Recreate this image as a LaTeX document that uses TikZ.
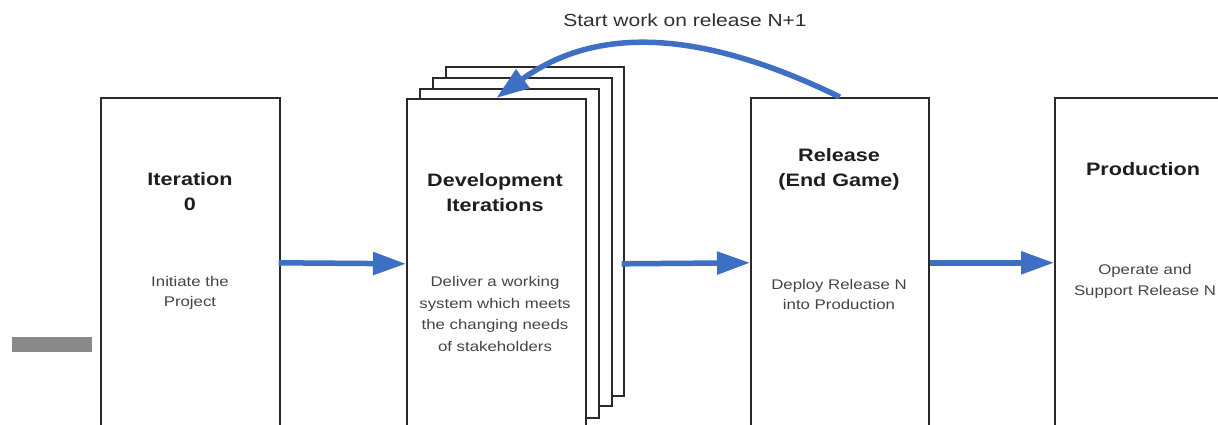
\documentclass[tikz,border=0pt]{standalone}
\usepackage{fontspec}
\setmainfont{Liberation Sans}[FakeStretch=1.2]
\usetikzlibrary{arrows.meta}

\definecolor{flowblue}{HTML}{3D6FC2}
\definecolor{boxline}{HTML}{2A2A2A}
\definecolor{bodytext}{HTML}{454545}
\definecolor{titletext}{HTML}{1E1E1E}
\definecolor{barfill}{HTML}{8A8A8A}

\tikzset{
  phase/.style={draw=boxline, line width=1.6pt, fill=white, rectangle,
    inner sep=0pt, anchor=north west},
  title/.style={font=\fontsize{18}{25}\selectfont\bfseries, text=titletext,
    align=center, inner sep=0pt},
  body/.style={font=\fontsize{14}{20.5}\selectfont, text=bodytext,
    align=center, inner sep=0pt},
  flow/.style={draw=flowblue, line width=5.5pt,
    -{Triangle[length=33pt,width=22pt]}},
}

\begin{document}
\begin{tikzpicture}[x=1pt,y=-1pt]
  \useasboundingbox (0,0) rectangle (1218,424);
  \clip (0,0) rectangle (1218,424);
  \fill[white] (0,0) rectangle (1218,424);

  % small grey bar at the left margin
  \fill[barfill] (12,337) rectangle (92,352);

  % phase boxes (they run past the lower edge)
  \node[phase, minimum width=179pt, minimum height=330pt] (it0) at (100,97) {};

  % stack of development iteration sheets, back to front
  \node[phase, minimum width=178pt, minimum height=329pt] (dev4) at (445,66) {};
  \node[phase, minimum width=179pt, minimum height=328pt] (dev3) at (432,77) {};
  \node[phase, minimum width=179pt, minimum height=329pt] (dev2) at (419,88) {};
  \node[phase, minimum width=179pt, minimum height=330pt] (dev) at (406,98) {};

  \node[phase, minimum width=178pt, minimum height=330pt] (rel) at (750,97) {};
  \node[phase, minimum width=200pt, minimum height=330pt] (prod) at (1054,97) {};

  % titles and descriptions
  \node[title] (it0t) at (190,192) {Iteration\\0};
  \node[body]  (it0b) at (190,293) {Initiate the\\Project};

  \node[title] (devt) at (495,192.5) {Development\\Iterations};
  \node[body, font=\fontsize{14}{21.4}\selectfont] (devb) at (495,314)
    {Deliver a working\\system which meets\\the changing needs\\of stakeholders};

  \node[title] (relt) at (839,169.5) {Release\\(End Game)};
  \node[body]  (relb) at (839,294.5) {Deploy Release N\\into Production};

  \node[title] (prodt) at (1143,169.5) {Production};
  \node[body]  (prodb) at (1145,281.5) {Operate and\\Support Release N};

  % flow between phases
  \draw[flow] ([xshift=-2pt]it0.east) -- (dev.west);
  \draw[flow] ([xshift=-3pt]dev4.east |- dev.east) -- (rel.west);
  \draw[flow] (rel.east) -- (prod.west);

  % feedback loop to the next release
  \draw[flow] (rel.north) .. controls (690,24) and (590,30) .. (dev.north);
  \node[font=\fontsize{17.5}{20}\selectfont, text=bodytext!70!black, inner sep=0pt]
    (loop) at (685,20) {Start work on release N+1};
\end{tikzpicture}
\end{document}
